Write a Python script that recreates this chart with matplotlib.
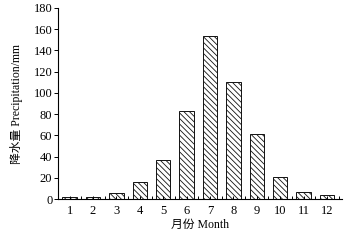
import numpy as np
from matplotlib import pyplot as plt
from matplotlib.ticker import MultipleLocator

months = np.arange(1, 13)
month_labels = [str(m) for m in months]
precip = [2.2, 2.2, 6, 16.3, 37, 83, 153.5, 110.6, 61.5, 21, 7, 3.5]

FONT = ['Liberation Serif', 'Noto Sans CJK SC']


def main():
    plt.rcParams['font.family'] = FONT
    plt.rcParams['hatch.linewidth'] = 0.6
    plt.rcParams['hatch.color'] = '#111111'
    fig = plt.figure(figsize=(3.47, 2.41), dpi=100)
    ax = fig.add_axes([0.167, 0.174, 0.819, 0.793])

    ax.bar(months, precip, width=0.62, color='white', edgecolor='#111111',
           linewidth=0.7, hatch='\\\\\\\\\\\\')

    ax.set_xlim(0.5, 12.65)
    ax.set_ylim(0, 180)
    ax.set_yticks(np.arange(0, 181, 20))
    ax.set_xticks(months)
    ax.set_xticklabels(month_labels)
    ax.xaxis.set_minor_locator(MultipleLocator(0.5))

    for s in ['top', 'right']:
        ax.spines[s].set_visible(False)
    for s in ['left', 'bottom']:
        ax.spines[s].set_linewidth(0.8)

    ax.tick_params(axis='y', direction='out', length=3, width=0.7,
                   labelsize=9, pad=1)
    ax.tick_params(axis='x', which='both', direction='in', length=2.5,
                   width=0.7, labelsize=9, pad=4)
    ax.tick_params(axis='x', which='minor', length=2)

    ax.set_xlabel('月份 Month', fontsize=8.5, labelpad=2)
    ax.set_ylabel('降水量 Precipitation/mm', fontsize=8.5, labelpad=8)

    fig.savefig('out.png', dpi=100)


if __name__ == "__main__":
    main()
